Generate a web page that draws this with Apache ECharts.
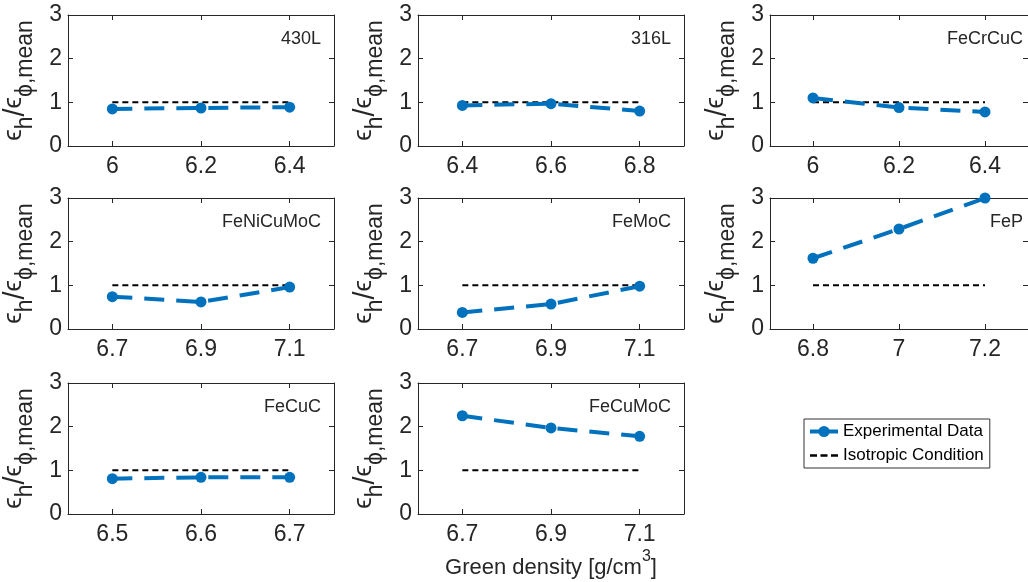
<!DOCTYPE html>
<html>
<head>
<meta charset="utf-8">
<script src="https://cdn.jsdelivr.net/npm/echarts@6/dist/echarts.min.js"></script>
<style>
  html, body { margin: 0; padding: 0; background: #fff; }
  #chart { width: 1028px; height: 582px; }
</style>
</head>
<body>
<div id="chart"></div>
<script>
// Strain ratio vs green density for eight powder materials
const materials = ['430L', '316L', 'FeCrCuC', 'FeNiCuMoC', 'FeMoC', 'FeP', 'FeCuC', 'FeCuMoC'];
const densities = [
  [6.0, 6.2, 6.4],
  [6.4, 6.6, 6.8],
  [6.0, 6.2, 6.4],
  [6.7, 6.9, 7.1],
  [6.7, 6.9, 7.1],
  [6.8, 7.0, 7.2],
  [6.5, 6.6, 6.7],
  [6.7, 6.9, 7.1]
];
const strainRatio = [
  [0.85, 0.87, 0.89],
  [0.93, 0.97, 0.80],
  [1.10, 0.88, 0.78],
  [0.74, 0.62, 0.96],
  [0.38, 0.57, 0.98],
  [1.62, 2.29, 3.00],
  [0.81, 0.84, 0.84],
  [2.25, 1.97, 1.78]
];
const isotropicRatio = 1;
const seriesNames = ['Experimental Data', 'Isotropic Condition'];
const xTitle = 'Green density [g/cm';

const TEXT = '#262626';
const BLUE = '#0072BD';
const FONT = '"Liberation Sans", Arial, Helvetica, sans-serif';

const colLeft = [68, 418, 770];
const rowTop = [15, 198, 383];
const plotW = 266;
const plotH = 131;

const grids = [], xAxes = [], yAxes = [], series = [], titles = [];

const yName = '{e|ϵ}{s|h}{sl|/}{e|ϵ}{s|ϕ,mean}';
const nameRich = {
  e:  { fontSize: 26, lineHeight: 36, verticalAlign: 'top', color: TEXT, fontFamily: FONT },
  sl: { fontSize: 29, lineHeight: 36, verticalAlign: 'top', color: TEXT, fontFamily: FONT },
  s:  { fontSize: 23, lineHeight: 36, verticalAlign: 'bottom', color: TEXT, fontFamily: FONT }
};

materials.forEach((name, i) => {
  const row = Math.floor(i / 3), col = i % 3;
  const xs = densities[i];
  const step = xs[1] - xs[0];
  const xMin = xs[0] - step / 2, xMax = xs[xs.length - 1] + step / 2;
  grids.push({ left: colLeft[col], top: rowTop[row], width: plotW, height: plotH, containLabel: false });

  const tickStyle = { show: true, inside: true, length: 5, lineStyle: { color: TEXT, width: 1 } };
  // bottom x axis with labels
  xAxes.push({
    type: 'value', gridIndex: i, position: 'bottom', min: xMin, max: xMax,
    axisLine: { show: true, onZero: false, lineStyle: { color: TEXT, width: 1 } },
    axisTick: Object.assign({ customValues: xs }, tickStyle),
    axisLabel: { customValues: xs, color: TEXT, fontSize: 23, fontFamily: FONT, margin: 9,
                 formatter: v => String(+v.toFixed(2)) },
    splitLine: { show: false }
  });
  // top x axis closing the box
  xAxes.push({
    type: 'value', gridIndex: i, position: 'top', min: xMin, max: xMax,
    axisLine: { show: true, onZero: false, lineStyle: { color: TEXT, width: 1 } },
    axisTick: Object.assign({ customValues: xs }, tickStyle),
    axisLabel: { show: false }, splitLine: { show: false }
  });
  yAxes.push({
    type: 'value', gridIndex: i, position: 'left', min: 0, max: 3, interval: 1,
    name: yName, nameLocation: 'middle', nameGap: 31, nameRotate: 90,
    nameTextStyle: { rich: nameRich, color: TEXT },
    axisLine: { show: true, onZero: false, lineStyle: { color: TEXT, width: 1 } },
    axisTick: tickStyle,
    axisLabel: { color: TEXT, fontSize: 23, fontFamily: FONT, margin: 6 },
    splitLine: { show: false }
  });
  yAxes.push({
    type: 'value', gridIndex: i, position: 'right', min: 0, max: 3, interval: 1,
    axisLine: { show: true, onZero: false, lineStyle: { color: TEXT, width: 1 } },
    axisTick: tickStyle, axisLabel: { show: false }, splitLine: { show: false }
  });

  const xi = 2 * i, yi = 2 * i;
  series.push({
    name: seriesNames[1], type: 'line', xAxisIndex: xi, yAxisIndex: yi,
    data: [[xs[0], isotropicRatio], [xs[xs.length - 1], isotropicRatio]],
    symbol: 'none', lineStyle: { color: '#000', width: 2, type: [6, 4] },
    itemStyle: { color: '#000' }, silent: true, animation: false, z: 2
  });
  series.push({
    name: seriesNames[0], type: 'line', xAxisIndex: xi, yAxisIndex: yi,
    data: xs.map((x, k) => [x, strainRatio[i][k]]),
    symbol: 'circle', symbolSize: 11,
    lineStyle: { color: BLUE, width: 4, type: [20, 12] },
    itemStyle: { color: BLUE }, animation: false, z: 3, clip: false
  });

  titles.push({
    text: name, right: 1028 - (colLeft[col] + plotW - 13), top: rowTop[row] + 15,
    textStyle: { color: TEXT, fontSize: 18, fontWeight: 'normal', fontFamily: FONT },
    padding: 0
  });
});

titles.push({
  text: '{n|' + xTitle + '}{sup|3}{n|]}', left: 551, top: 549, textAlign: 'center', padding: 0,
  textStyle: {
    fontWeight: 'normal',
    rich: {
      n: { fontSize: 22, lineHeight: 30, verticalAlign: 'bottom', color: TEXT, fontFamily: FONT, fontWeight: 'normal' },
      sup: { fontSize: 16, lineHeight: 30, verticalAlign: 'top', color: TEXT, fontFamily: FONT, fontWeight: 'normal' }
    }
  }
});

const chart = echarts.init(document.getElementById('chart'), null, { renderer: 'canvas' });
chart.setOption({
  backgroundColor: '#fff',
  animation: false,
  title: titles,
  grid: grids,
  xAxis: xAxes,
  yAxis: yAxes,
  legend: {
    data: [
      { name: seriesNames[0], lineStyle: { type: 'solid', width: 4 } },
      { name: seriesNames[1], icon: 'path://M0,6h6v2h-6zM9,6h6v2h-6zM18,6h6v2h-6z', itemStyle: { color: '#000' } }
    ],
    orient: 'vertical', left: 804, top: 419,
    borderColor: '#333', borderWidth: 1, padding: [4, 6, 4, 4], itemGap: 7,
    itemWidth: 28, itemHeight: 14,
    textStyle: { color: '#000', fontSize: 17, fontFamily: FONT }
  },
  series: series
});
</script>
</body>
</html>
